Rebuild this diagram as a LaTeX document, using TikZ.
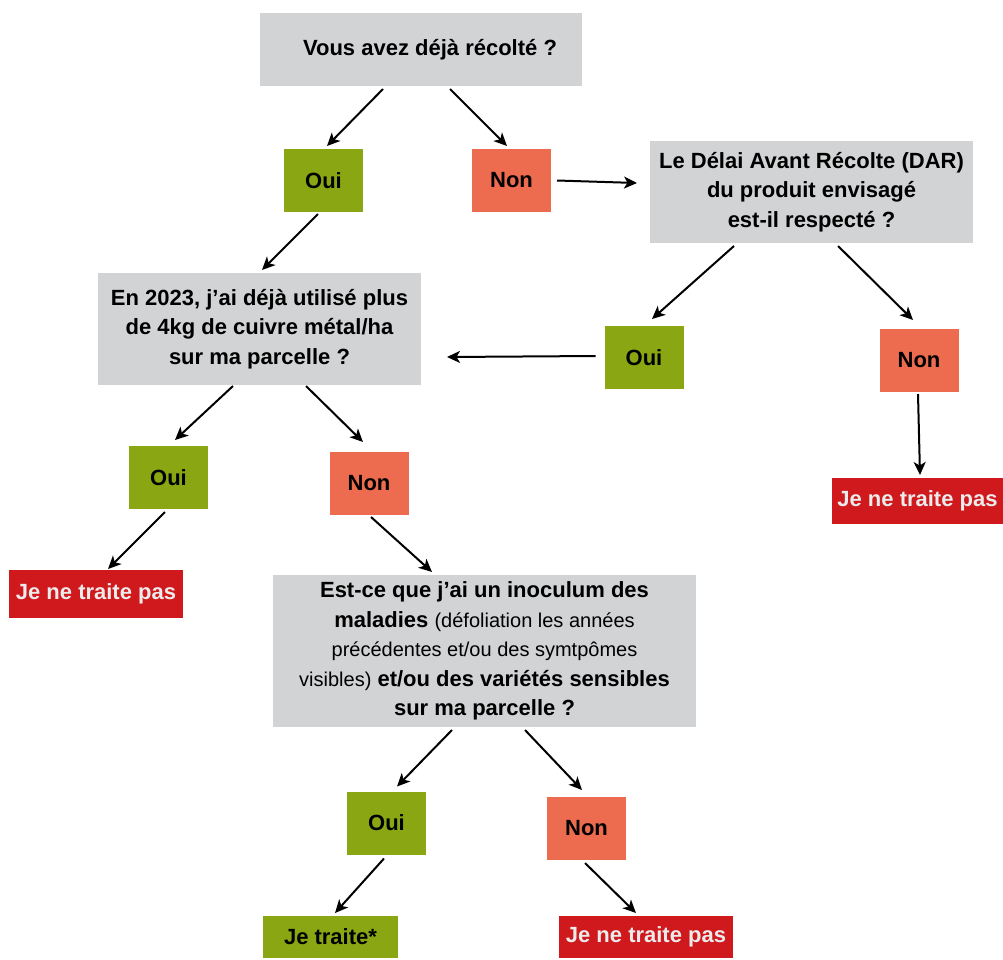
\documentclass[tikz,border=0pt]{standalone}
\usepackage{fontspec}
\setmainfont{Liberation Sans}
\usepackage{xcolor}
\usepackage{tikz}
\usetikzlibrary{shapes, arrows.meta, positioning, calc}

\definecolor{grisq}{RGB}{209,211,212}
\definecolor{vertok}{RGB}{138,167,19}
\definecolor{orangenon}{RGB}{237,107,78}
\definecolor{rougestop}{RGB}{207,25,29}

\begin{document}
\begin{tikzpicture}[x=1pt, y=-1pt, >={Stealth[length=13pt,width=12pt,inset=3.5pt]}, line width=2pt]
    \tikzstyle{question} = [rectangle, fill=grisq, align=center, inner sep=0pt, font=\bfseries\fontsize{22}{29.5}\selectfont]
    \tikzstyle{oui} = [rectangle, fill=vertok, minimum width=79pt, minimum height=63pt, inner sep=0pt, font=\bfseries\fontsize{22}{26}\selectfont]
    \tikzstyle{non} = [oui, fill=orangenon]
    \tikzstyle{stop} = [rectangle, fill=rougestop, text=white!92!black, inner sep=0pt, font=\bfseries\fontsize{22}{26}\selectfont]
    \tikzstyle{traite} = [stop, fill=vertok, text=black]
    \tikzstyle{fleche} = [->, line width=2pt]

    \useasboundingbox (0,0) rectangle (1003,959);

    \node [question, minimum width=322pt, minimum height=73pt] (recolte) at (421,49.5) {\hspace*{18pt}Vous avez déjà récolté ?};
    \node [oui] (oui1) at (323.5,180.5) {Oui};
    \node [non] (non1) at (511.5,180.5) {Non};
    \node [question, minimum width=323pt, minimum height=102pt] (dar) at (811.5,192) {Le Délai Avant Récolte (DAR)\\du produit envisagé\\est-il respecté ?};
    \node [question, minimum width=323pt, minimum height=112pt] (cuivre) at (259.5,329) {En 2023, j'ai déjà utilisé plus\\de 4kg de cuivre métal/ha\\sur ma parcelle ?};
    \node [oui] (oui2) at (644,357.5) {Oui};
    \node [non] (non2) at (919,360.5) {Non};
    \node [stop, minimum width=171pt, minimum height=46pt] (stopdar) at (917.5,501) {Je ne traite pas};
    \node [oui] (oui3) at (168.5,477.5) {Oui};
    \node [non] (non3) at (369,483.5) {Non};
    \node [stop, minimum width=174pt, minimum height=48pt] (stopcuivre) at (96,594) {Je ne traite pas};
    \node [question, minimum width=423pt, minimum height=152pt] (inoculum) at (484.5,651) {Est-ce que j'ai un inoculum des\\maladies {\mdseries\fontsize{20}{29.5}\selectfont (défoliation les années}\\{\mdseries\fontsize{20}{29.5}\selectfont précédentes et/ou des symtpômes}\\{\mdseries\fontsize{20}{29.5}\selectfont visibles)} et/ou des variétés sensibles\\sur ma parcelle ?};
    \node [oui] (oui4) at (386.5,823) {Oui};
    \node [non] (non4) at (586.5,828.5) {Non};
    \node [traite, minimum width=135pt, minimum height=42pt] (traite) at (330.5,937) {Je traite*};
    \node [stop, minimum width=174pt, minimum height=42pt] (stopfin) at (646,937) {Je ne traite pas};

    % Connections
    \draw[fleche] ([xshift=-38pt,yshift=-2pt]recolte.south) -- ([xshift=3.5pt,yshift=2pt]oui1.north);
    \draw[fleche] ([xshift=29pt,yshift=-2pt]recolte.south) -- ([xshift=-4.5pt,yshift=2pt]non1.north);
    \draw[fleche] ([xshift=5pt]non1.east) -- ([xshift=-12pt,yshift=9pt]dar.west);
    \draw[fleche] ([xshift=-5.5pt,yshift=-1pt]oui1.south) -- ([xshift=2.5pt,yshift=2pt]cuivre.north);
    \draw[fleche] ([xshift=-77.5pt,yshift=-2pt]dar.south) -- ([xshift=8pt,yshift=6pt]oui2.north);
    \draw[fleche] ([xshift=26.5pt,yshift=-2pt]dar.south) -- ([xshift=-6pt,yshift=8pt]non2.north);
    \draw[fleche] ([xshift=-8pt,yshift=1.5pt]oui2.west) -- ([xshift=25pt,yshift=-28pt]cuivre.east);
    \draw[fleche] ([xshift=-1pt,yshift=-1pt]non2.south) -- ([xshift=2.5pt,yshift=2pt]stopdar.north);
    \draw[fleche] ([xshift=-26.5pt]cuivre.south) -- ([xshift=6.5pt,yshift=5pt]oui3.north);
    \draw[fleche] ([xshift=46.5pt]cuivre.south) -- ([xshift=-6pt,yshift=9pt]non3.north);
    \draw[fleche] ([xshift=-3.5pt,yshift=-2pt]oui3.south) -- ([xshift=12pt]stopcuivre.north);
    \draw[fleche] ([xshift=2pt,yshift=-1pt]non3.south) -- ([xshift=-52.5pt,yshift=2pt]inoculum.north);
    \draw[fleche] ([xshift=-32.5pt,yshift=-2pt]inoculum.south) -- ([xshift=10.5pt,yshift=4pt]oui4.north);
    \draw[fleche] ([xshift=40.5pt,yshift=-2pt]inoculum.south) -- ([xshift=-4.5pt,yshift=6pt]non4.north);
    \draw[fleche] ([xshift=-2.5pt,yshift=-3pt]oui4.south) -- ([xshift=4.5pt,yshift=2pt]traite.north);
    \draw[fleche] ([xshift=-1.5pt,yshift=-2pt]non4.south) -- ([xshift=-10pt,yshift=2pt]stopfin.north);
\end{tikzpicture}
\end{document}
